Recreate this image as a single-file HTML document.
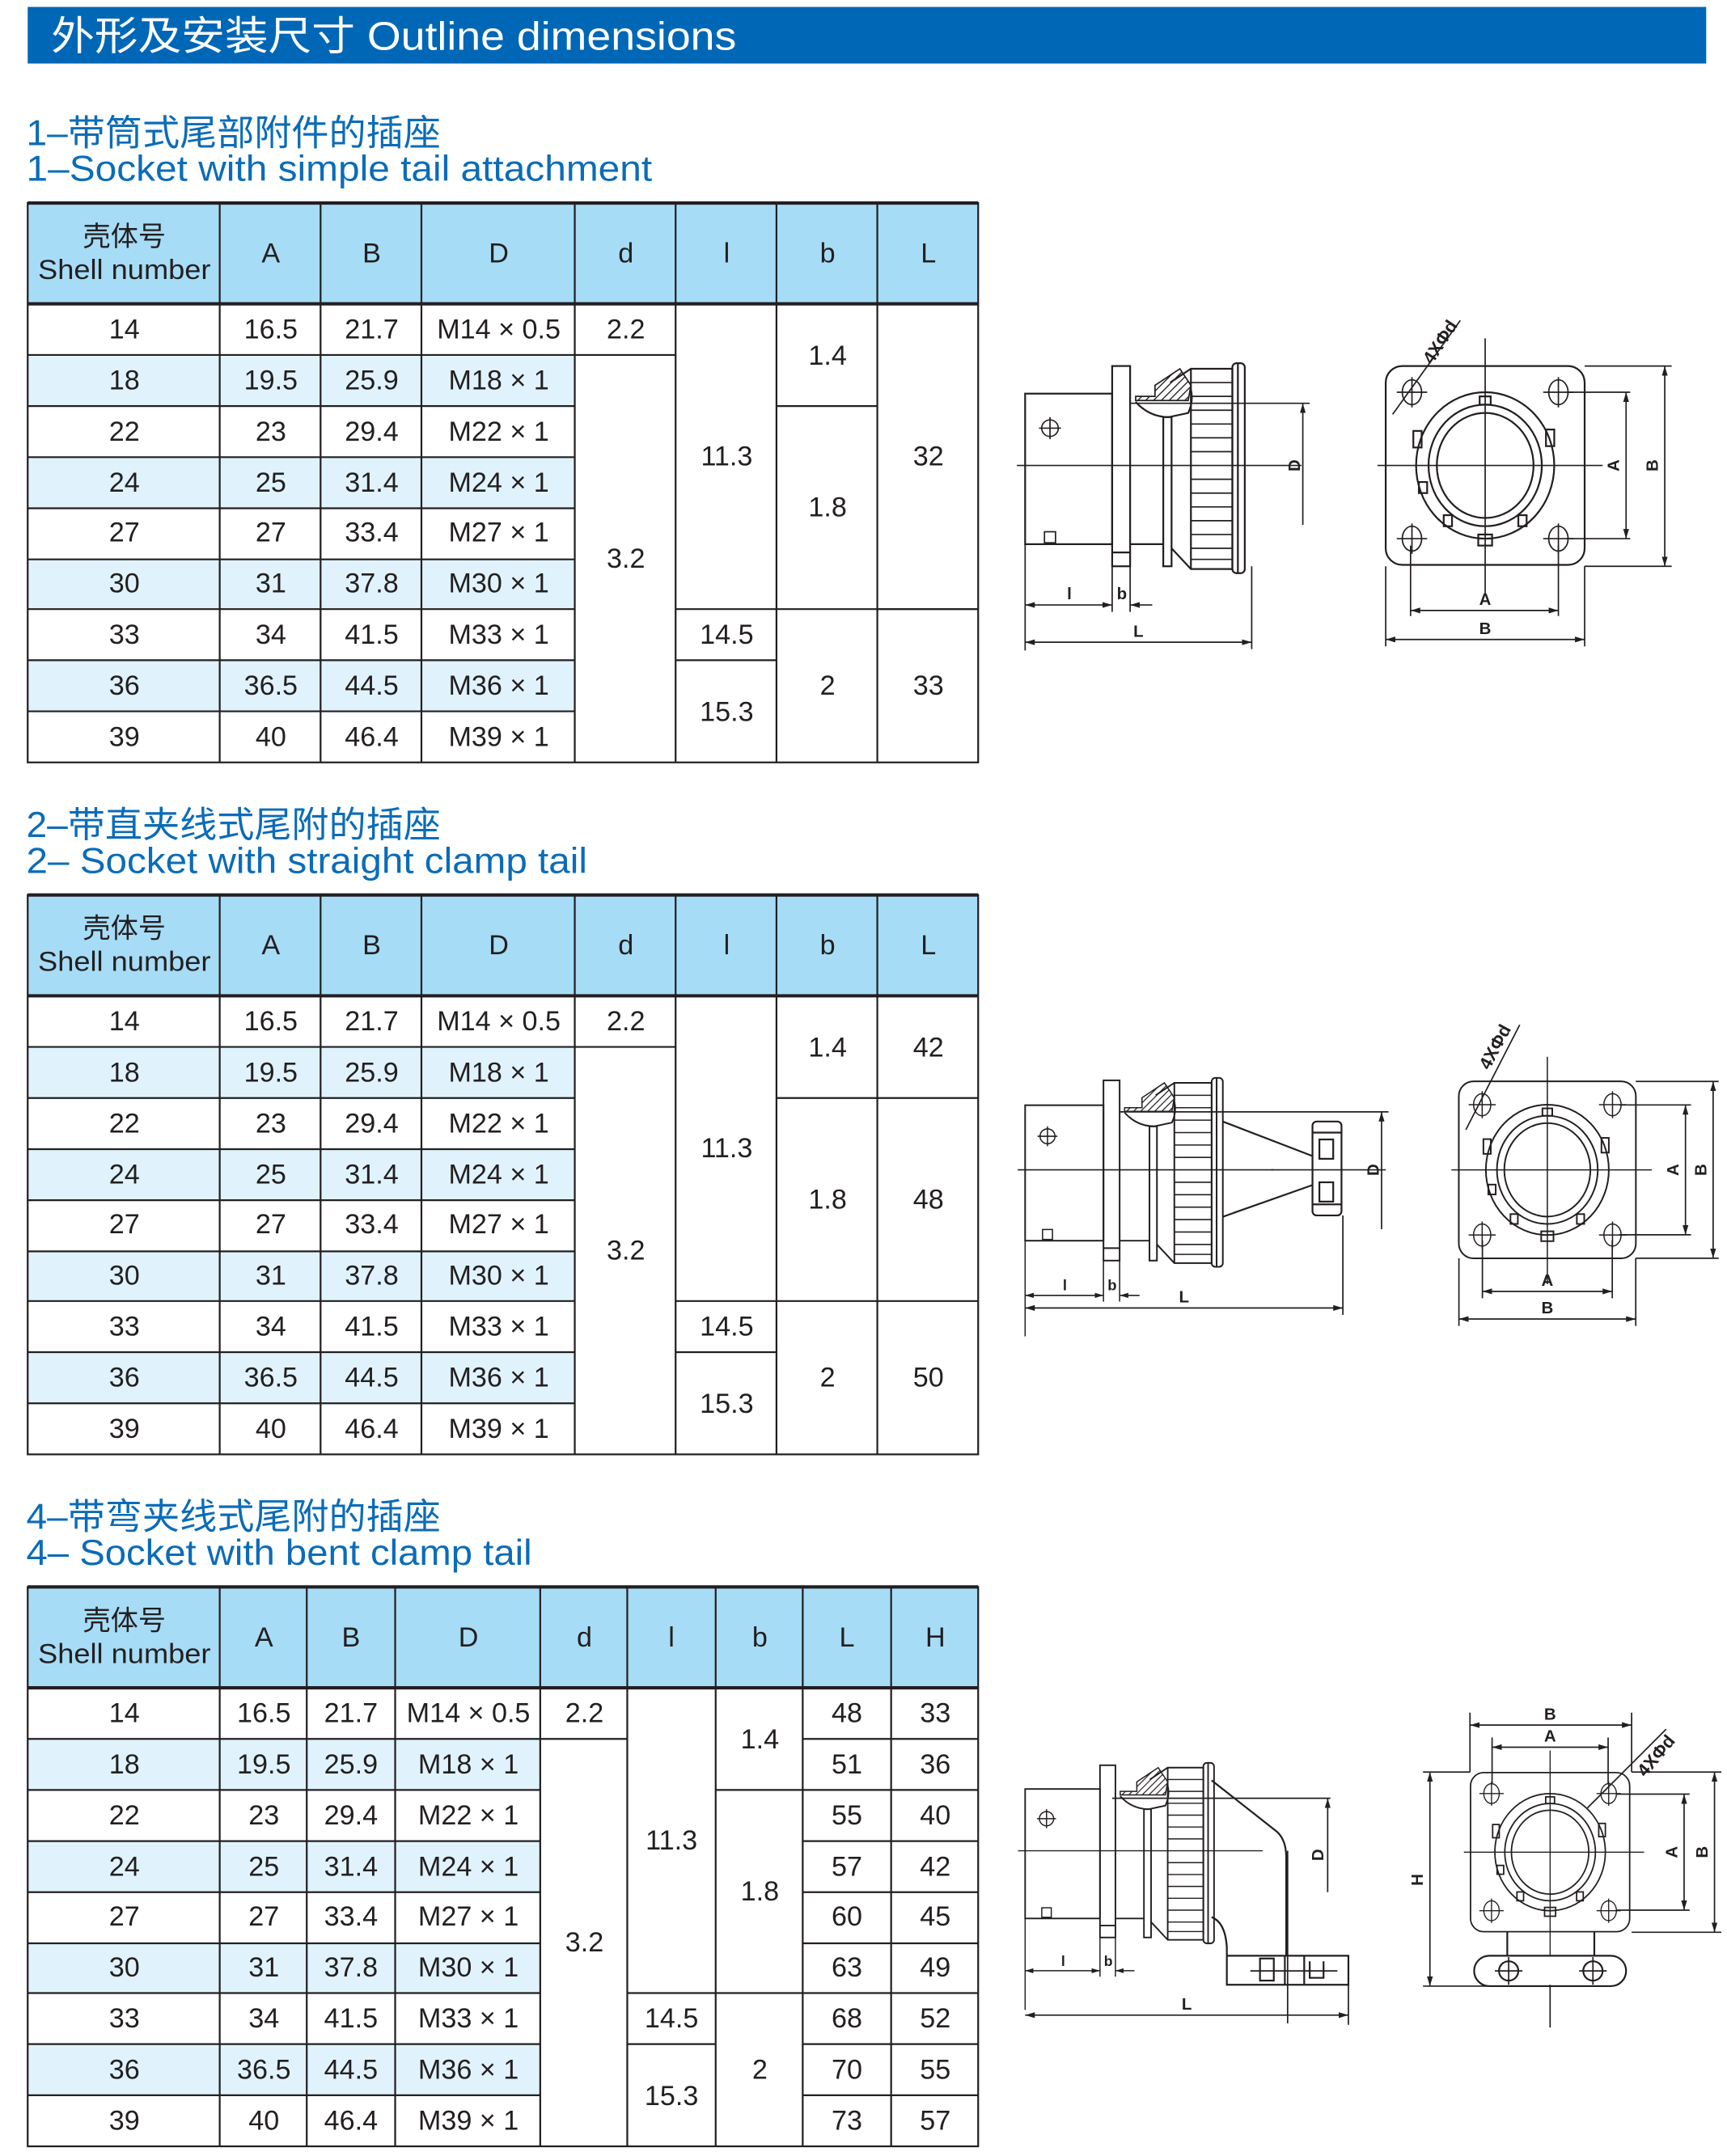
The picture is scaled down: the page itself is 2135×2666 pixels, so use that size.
<!DOCTYPE html>
<html><head><meta charset="utf-8"><style>
html,body{margin:0;padding:0;background:#fff;}
svg{display:block;}
.c{font-family:"Liberation Sans","Noto Sans CJK SC",sans-serif;font-size:20px;fill:#231f20;text-anchor:middle;}
.t{font-family:"Liberation Sans","Noto Sans CJK SC",sans-serif;font-size:26px;fill:#0b6cb8;}
.lb{font-family:"Liberation Sans",sans-serif;font-size:12px;font-weight:bold;fill:#231f20;text-anchor:middle;}
.ln{stroke:#231f20;stroke-width:1.3;fill:none;}
.dl{stroke:#231f20;stroke-width:1;fill:none;}
</style></head><body>
<svg width="2135" height="2666" viewBox="0 0 1250 1561" xmlns="http://www.w3.org/2000/svg">
<defs>
<marker id="a" viewBox="0 0 10 10" refX="10" refY="5" markerWidth="7" markerHeight="7" orient="auto-start-reverse"><path d="M0,2 L10,5 L0,8 z" fill="#231f20"/></marker>
<pattern id="h" width="4" height="4" patternUnits="userSpaceOnUse" patternTransform="rotate(45)"><line x1="0" y1="0" x2="0" y2="4" stroke="#231f20" stroke-width="1.6"/></pattern>

<g id="sv">
 <rect class="ln" x="0" y="-52" width="63" height="109"/>
 <rect class="ln" x="63" y="-72" width="13" height="145"/>
 <line class="ln" x1="63" y1="63" x2="76" y2="63"/>
 <line class="ln" x1="76" y1="57" x2="100" y2="57"/>
 <rect class="ln" x="100" y="-35" width="6" height="108"/>
 <path class="ln" d="M106,60 L120,75 L150,75 L150,-70 L120,-70 L105,-60"/>
 <path class="ln" d="M120,-70 L120,75"/>
 <g class="dl">
  <line x1="120" y1="-60" x2="150" y2="-60"/><line x1="120" y1="-50" x2="150" y2="-50"/><line x1="120" y1="-40" x2="150" y2="-40"/><line x1="120" y1="-30" x2="150" y2="-30"/><line x1="120" y1="-20" x2="150" y2="-20"/><line x1="120" y1="-10" x2="150" y2="-10"/><line x1="120" y1="10" x2="150" y2="10"/><line x1="120" y1="20" x2="150" y2="20"/><line x1="120" y1="30" x2="150" y2="30"/><line x1="120" y1="40" x2="150" y2="40"/><line x1="120" y1="50" x2="150" y2="50"/><line x1="120" y1="60" x2="150" y2="60"/><line x1="120" y1="68" x2="150" y2="68"/>
 </g>
 <rect class="ln" x="150" y="-74" width="9" height="152" rx="3"/>
 <line class="ln" x1="154" y1="-74" x2="154" y2="78"/>
 <path d="M80,-47 L118,-47 L120,-58 L112,-70 L100,-62 L94,-58 L94,-50 L80,-50 z" fill="url(#h)" stroke="#231f20" stroke-width="1"/>
 <path class="ln" d="M80,-46 Q90,-35 104,-35 L118,-38 Q122,-46 120,-55"/>
 <circle class="dl" cx="18" cy="-27" r="6"/>
 <line class="dl" x1="10" y1="-27" x2="26" y2="-27"/><line class="dl" x1="18" y1="-35" x2="18" y2="-19"/>
 <rect class="dl" x="14" y="48" width="8" height="8"/>
 <line class="dl" x1="-6" y1="0" x2="200" y2="0"/>
 <line class="dl" x1="0" y1="57" x2="0" y2="134"/>
 <line class="dl" x1="63" y1="73" x2="63" y2="106"/>
 <line class="dl" x1="76" y1="73" x2="76" y2="106"/>
 <line class="dl" x1="0" y1="101" x2="63" y2="101" marker-start="url(#a)" marker-end="url(#a)"/>
 <line class="dl" x1="92" y1="101" x2="76" y2="101" marker-end="url(#a)"/>
 <text class="lb" x="32" y="97">l</text>
 <text class="lb" x="70" y="97">b</text>
</g>

<g id="fv">
 <rect class="ln" x="-72" y="-72" width="144" height="144" rx="12"/>
 <g class="dl">
  <ellipse cx="-53" cy="-53" rx="7" ry="9"/><ellipse cx="53" cy="-53" rx="7" ry="9"/><ellipse cx="-53" cy="53" rx="7" ry="9"/><ellipse cx="53" cy="53" rx="7" ry="9"/>
  <line x1="-64" y1="-53" x2="-42" y2="-53"/><line x1="-53" y1="-64" x2="-53" y2="-42"/>
  <line x1="42" y1="-53" x2="64" y2="-53"/><line x1="53" y1="-64" x2="53" y2="-42"/>
  <line x1="-64" y1="53" x2="-42" y2="53"/><line x1="-53" y1="42" x2="-53" y2="64"/>
  <line x1="42" y1="53" x2="64" y2="53"/><line x1="53" y1="42" x2="53" y2="64"/>
 </g>
 <ellipse class="ln" cx="0" cy="0" rx="50" ry="53"/>
 <ellipse class="ln" cx="0" cy="0" rx="41" ry="44"/>
 <ellipse class="ln" cx="0" cy="0" rx="35" ry="38"/>
 <rect class="ln" x="-4" y="-50" width="8" height="6" fill="#fff"/>
 <rect class="ln" x="-5" y="50" width="10" height="8" fill="#fff"/>
 <rect class="ln" x="-52" y="-25" width="6" height="12" fill="#fff"/>
 <rect class="ln" x="44" y="-26" width="6" height="12" fill="#fff"/>
 <rect class="ln" x="-48" y="12" width="6" height="8" fill="#fff"/>
 <rect class="ln" x="-30" y="36" width="6" height="8" fill="#fff"/>
 <rect class="ln" x="24" y="36" width="6" height="8" fill="#fff"/>
 <line class="dl" x1="-78" y1="0" x2="85" y2="0"/>
 <line class="dl" x1="0" y1="-92" x2="0" y2="93"/>
</g>
</defs>

<!-- banner -->
<rect x="20" y="5" width="1215" height="41" fill="#0067b6"/>
<text x="37" y="36" textLength="496" lengthAdjust="spacingAndGlyphs" style="font-family:'Liberation Sans','Noto Sans CJK SC',sans-serif;font-size:29px;fill:#fff;">外形及安装尺寸 Outline dimensions</text>

<!-- section titles -->
<text class="t" x="19" y="105" textLength="300" lengthAdjust="spacingAndGlyphs">1–带筒式尾部附件的插座</text>
<text class="t" x="19" y="131" textLength="453" lengthAdjust="spacingAndGlyphs">1–Socket with simple tail attachment</text>
<text class="t" x="19" y="606" textLength="300" lengthAdjust="spacingAndGlyphs">2–带直夹线式尾附的插座</text>
<text class="t" x="19" y="632" textLength="406" lengthAdjust="spacingAndGlyphs">2– Socket with straight clamp tail</text>
<text class="t" x="19" y="1107" textLength="300" lengthAdjust="spacingAndGlyphs">4–带弯夹线式尾附的插座</text>
<text class="t" x="19" y="1133" textLength="366" lengthAdjust="spacingAndGlyphs">4– Socket with bent clamp tail</text>

<!-- TABLE 1 structure -->
<g id="t1">
 <rect x="20" y="147" width="688" height="73" fill="#a6dcf6"/>
 <g fill="#e0f3fc"><rect x="20" y="257" width="396" height="37"/><rect x="20" y="331" width="396" height="37"/><rect x="20" y="405" width="396" height="36"/><rect x="20" y="478" width="396" height="37"/></g>
 <g stroke="#231f20" stroke-width="1.3" fill="none">
  <rect x="20" y="147" width="688" height="405"/>
  <line x1="20" y1="147" x2="708" y2="147" stroke-width="2.4"/>
  <line x1="20" y1="220" x2="708" y2="220" stroke-width="2.4"/>
  <line x1="159" y1="147" x2="159" y2="552"/><line x1="232" y1="147" x2="232" y2="552"/><line x1="305" y1="147" x2="305" y2="552"/><line x1="416" y1="147" x2="416" y2="552"/><line x1="489" y1="147" x2="489" y2="552"/><line x1="562" y1="147" x2="562" y2="552"/><line x1="635" y1="147" x2="635" y2="552"/>
  <line x1="20" y1="257" x2="489" y2="257"/>
  <line x1="20" y1="294" x2="416" y2="294"/><line x1="20" y1="331" x2="416" y2="331"/><line x1="20" y1="368" x2="416" y2="368"/><line x1="20" y1="405" x2="416" y2="405"/><line x1="20" y1="441" x2="416" y2="441"/><line x1="20" y1="478" x2="416" y2="478"/><line x1="20" y1="515" x2="416" y2="515"/>
  <line x1="489" y1="441" x2="708" y2="441"/><line x1="489" y1="478" x2="562" y2="478"/>
  <line x1="562" y1="294" x2="635" y2="294"/>
 </g>
 <text class="c" x="90" y="178">壳体号</text><text class="c" x="90" y="202" textLength="125" lengthAdjust="spacingAndGlyphs">Shell number</text>
 <text class="c" x="196" y="190">A</text><text class="c" x="269" y="190">B</text><text class="c" x="361" y="190">D</text><text class="c" x="453" y="190">d</text><text class="c" x="526" y="190">l</text><text class="c" x="599" y="190">b</text><text class="c" x="672" y="190">L</text>
 <text class="c" x="90" y="245">14</text><text class="c" x="196" y="245">16.5</text><text class="c" x="269" y="245">21.7</text><text class="c" x="361" y="245">M14 × 0.5</text><text class="c" x="453" y="245">2.2</text>
 <text class="c" x="90" y="282">18</text><text class="c" x="196" y="282">19.5</text><text class="c" x="269" y="282">25.9</text><text class="c" x="361" y="282">M18 × 1</text>
 <text class="c" x="90" y="319">22</text><text class="c" x="196" y="319">23</text><text class="c" x="269" y="319">29.4</text><text class="c" x="361" y="319">M22 × 1</text>
 <text class="c" x="90" y="356">24</text><text class="c" x="196" y="356">25</text><text class="c" x="269" y="356">31.4</text><text class="c" x="361" y="356">M24 × 1</text>
 <text class="c" x="90" y="392">27</text><text class="c" x="196" y="392">27</text><text class="c" x="269" y="392">33.4</text><text class="c" x="361" y="392">M27 × 1</text>
 <text class="c" x="90" y="429">30</text><text class="c" x="196" y="429">31</text><text class="c" x="269" y="429">37.8</text><text class="c" x="361" y="429">M30 × 1</text>
 <text class="c" x="90" y="466">33</text><text class="c" x="196" y="466">34</text><text class="c" x="269" y="466">41.5</text><text class="c" x="361" y="466">M33 × 1</text>
 <text class="c" x="90" y="503">36</text><text class="c" x="196" y="503">36.5</text><text class="c" x="269" y="503">44.5</text><text class="c" x="361" y="503">M36 × 1</text>
 <text class="c" x="90" y="540">39</text><text class="c" x="196" y="540">40</text><text class="c" x="269" y="540">46.4</text><text class="c" x="361" y="540">M39 × 1</text>
 <text class="c" x="453" y="411">3.2</text>
 <text class="c" x="526" y="337">11.3</text><text class="c" x="526" y="466">14.5</text><text class="c" x="526" y="522">15.3</text>
 <text class="c" x="599" y="264">1.4</text><text class="c" x="599" y="374">1.8</text><text class="c" x="599" y="503">2</text>
</g>
<text class="c" x="672" y="337">32</text><text class="c" x="672" y="503">33</text>
<line x1="635" y1="441" x2="708" y2="441" stroke="#231f20" stroke-width="1.3"/>

<!-- TABLE 2 -->
<use href="#t1" transform="translate(0,501)"/>
<g stroke="#231f20" stroke-width="1.3"><line x1="635" y1="795" x2="708" y2="795"/></g>
<text class="c" x="672" y="765">42</text><text class="c" x="672" y="875">48</text><text class="c" x="672" y="1004">50</text>

<!-- TABLE 3 -->
<g transform="translate(0,1002)">
 <rect x="20" y="147" width="688" height="73" fill="#a6dcf6"/>
 <g fill="#e0f3fc"><rect x="20" y="257" width="371" height="37"/><rect x="20" y="331" width="371" height="37"/><rect x="20" y="405" width="371" height="36"/><rect x="20" y="478" width="371" height="37"/></g>
 <g stroke="#231f20" stroke-width="1.3" fill="none">
  <rect x="20" y="147" width="688" height="405"/>
  <line x1="20" y1="147" x2="708" y2="147" stroke-width="2.4"/>
  <line x1="20" y1="220" x2="708" y2="220" stroke-width="2.4"/>
  <line x1="159" y1="147" x2="159" y2="552"/><line x1="222" y1="147" x2="222" y2="552"/><line x1="286" y1="147" x2="286" y2="552"/><line x1="391" y1="147" x2="391" y2="552"/><line x1="454" y1="147" x2="454" y2="552"/><line x1="518" y1="147" x2="518" y2="552"/><line x1="581" y1="147" x2="581" y2="552"/><line x1="645" y1="147" x2="645" y2="552"/>
  <line x1="20" y1="257" x2="454" y2="257"/>
  <line x1="20" y1="294" x2="391" y2="294"/><line x1="20" y1="331" x2="391" y2="331"/><line x1="20" y1="368" x2="391" y2="368"/><line x1="20" y1="405" x2="391" y2="405"/><line x1="20" y1="441" x2="391" y2="441"/><line x1="20" y1="478" x2="391" y2="478"/><line x1="20" y1="515" x2="391" y2="515"/>
  <line x1="454" y1="441" x2="581" y2="441"/><line x1="454" y1="478" x2="518" y2="478"/>
  <line x1="518" y1="294" x2="581" y2="294"/>
  <line x1="581" y1="257" x2="708" y2="257"/><line x1="581" y1="294" x2="708" y2="294"/><line x1="581" y1="331" x2="708" y2="331"/><line x1="581" y1="368" x2="708" y2="368"/><line x1="581" y1="405" x2="708" y2="405"/><line x1="581" y1="441" x2="708" y2="441"/><line x1="581" y1="478" x2="708" y2="478"/><line x1="581" y1="515" x2="708" y2="515"/>
 </g>
 <text class="c" x="90" y="178">壳体号</text><text class="c" x="90" y="202" textLength="125" lengthAdjust="spacingAndGlyphs">Shell number</text>
 <text class="c" x="191" y="190">A</text><text class="c" x="254" y="190">B</text><text class="c" x="339" y="190">D</text><text class="c" x="423" y="190">d</text><text class="c" x="486" y="190">l</text><text class="c" x="550" y="190">b</text><text class="c" x="613" y="190">L</text><text class="c" x="677" y="190">H</text>
 <text class="c" x="90" y="245">14</text><text class="c" x="191" y="245">16.5</text><text class="c" x="254" y="245">21.7</text><text class="c" x="339" y="245">M14 × 0.5</text><text class="c" x="423" y="245">2.2</text><text class="c" x="613" y="245">48</text><text class="c" x="677" y="245">33</text>
 <text class="c" x="90" y="282">18</text><text class="c" x="191" y="282">19.5</text><text class="c" x="254" y="282">25.9</text><text class="c" x="339" y="282">M18 × 1</text><text class="c" x="613" y="282">51</text><text class="c" x="677" y="282">36</text>
 <text class="c" x="90" y="319">22</text><text class="c" x="191" y="319">23</text><text class="c" x="254" y="319">29.4</text><text class="c" x="339" y="319">M22 × 1</text><text class="c" x="613" y="319">55</text><text class="c" x="677" y="319">40</text>
 <text class="c" x="90" y="356">24</text><text class="c" x="191" y="356">25</text><text class="c" x="254" y="356">31.4</text><text class="c" x="339" y="356">M24 × 1</text><text class="c" x="613" y="356">57</text><text class="c" x="677" y="356">42</text>
 <text class="c" x="90" y="392">27</text><text class="c" x="191" y="392">27</text><text class="c" x="254" y="392">33.4</text><text class="c" x="339" y="392">M27 × 1</text><text class="c" x="613" y="392">60</text><text class="c" x="677" y="392">45</text>
 <text class="c" x="90" y="429">30</text><text class="c" x="191" y="429">31</text><text class="c" x="254" y="429">37.8</text><text class="c" x="339" y="429">M30 × 1</text><text class="c" x="613" y="429">63</text><text class="c" x="677" y="429">49</text>
 <text class="c" x="90" y="466">33</text><text class="c" x="191" y="466">34</text><text class="c" x="254" y="466">41.5</text><text class="c" x="339" y="466">M33 × 1</text><text class="c" x="613" y="466">68</text><text class="c" x="677" y="466">52</text>
 <text class="c" x="90" y="503">36</text><text class="c" x="191" y="503">36.5</text><text class="c" x="254" y="503">44.5</text><text class="c" x="339" y="503">M36 × 1</text><text class="c" x="613" y="503">70</text><text class="c" x="677" y="503">55</text>
 <text class="c" x="90" y="540">39</text><text class="c" x="191" y="540">40</text><text class="c" x="254" y="540">46.4</text><text class="c" x="339" y="540">M39 × 1</text><text class="c" x="613" y="540">73</text><text class="c" x="677" y="540">57</text>
 <text class="c" x="423" y="411">3.2</text>
 <text class="c" x="486" y="337">11.3</text><text class="c" x="486" y="466">14.5</text><text class="c" x="486" y="522">15.3</text>
 <text class="c" x="550" y="264">1.4</text><text class="c" x="550" y="374">1.8</text><text class="c" x="550" y="503">2</text>
</g>

<!-- DRAWING 1 -->
<use href="#sv" transform="translate(742,337)"/>
<line class="dl" x1="818" y1="292" x2="948" y2="292"/>
<line class="dl" x1="943" y1="380" x2="943" y2="292" marker-end="url(#a)"/>
<text class="lb" transform="translate(941,337) rotate(-90)">D</text>
<line class="dl" x1="906" y1="410" x2="906" y2="470"/>
<line class="dl" x1="742" y1="465" x2="906" y2="465" marker-start="url(#a)" marker-end="url(#a)"/>
<text class="lb" x="824" y="461">L</text>

<use href="#fv" transform="translate(1075,337)"/>
<g class="dl">
 <line x1="1008" y1="300" x2="1057" y2="232"/>
 <line x1="1134" y1="284" x2="1180" y2="284"/><line x1="1134" y1="390" x2="1180" y2="390"/>
 <line x1="1177" y1="284" x2="1177" y2="390" marker-start="url(#a)" marker-end="url(#a)"/>
 <line x1="1147" y1="265" x2="1210" y2="265"/><line x1="1147" y1="410" x2="1210" y2="410"/>
 <line x1="1205" y1="265" x2="1205" y2="410" marker-start="url(#a)" marker-end="url(#a)"/>
 <line x1="1021" y1="395" x2="1021" y2="446"/><line x1="1128" y1="395" x2="1128" y2="446"/>
 <line x1="1021" y1="442" x2="1128" y2="442" marker-start="url(#a)" marker-end="url(#a)"/>
 <line x1="1003" y1="410" x2="1003" y2="468"/><line x1="1147" y1="410" x2="1147" y2="468"/>
 <line x1="1003" y1="463" x2="1147" y2="463" marker-start="url(#a)" marker-end="url(#a)"/>
</g>
<text class="lb" style="font-size:13px" transform="translate(1046,250) rotate(-57)">4XΦd</text>
<text class="lb" transform="translate(1172,337) rotate(-90)">A</text>
<text class="lb" transform="translate(1200,337) rotate(-90)">B</text>
<text class="lb" x="1075" y="438">A</text>
<text class="lb" x="1075" y="459">B</text>

<!-- DRAWING 2 -->
<use href="#sv" transform="translate(742,847) scale(0.9)"/>
<line class="dl" x1="810" y1="805" x2="1005" y2="805"/>
<line class="dl" x1="1000" y1="890" x2="1000" y2="805" marker-end="url(#a)"/>
<line class="dl" x1="920" y1="847" x2="1003" y2="847"/>
<text class="lb" transform="translate(998,847) rotate(-90)">D</text>
<g class="ln">
 <line x1="885" y1="812" x2="950" y2="837"/><line x1="885" y1="881" x2="950" y2="858"/>
 <rect x="950" y="812" width="21" height="68" rx="3"/>
 <line x1="950" y1="820" x2="971" y2="820"/><line x1="950" y1="872" x2="971" y2="872"/>
 <rect x="955" y="825" width="10" height="14"/><rect x="955" y="856" width="10" height="14"/>
</g>
<line class="dl" x1="972" y1="880" x2="972" y2="952"/>
<line class="dl" x1="742" y1="947" x2="972" y2="947" marker-start="url(#a)" marker-end="url(#a)"/>
<text class="lb" x="857" y="943">L</text>

<use href="#fv" transform="translate(1120,847) scale(0.89)"/>
<g class="dl">
 <line x1="1061" y1="818" x2="1100" y2="742"/>
 <line x1="1172" y1="800" x2="1224" y2="800"/><line x1="1172" y1="894" x2="1224" y2="894"/>
 <line x1="1220" y1="800" x2="1220" y2="894" marker-start="url(#a)" marker-end="url(#a)"/>
 <line x1="1184" y1="783" x2="1244" y2="783"/><line x1="1184" y1="911" x2="1244" y2="911"/>
 <line x1="1240" y1="783" x2="1240" y2="911" marker-start="url(#a)" marker-end="url(#a)"/>
 <line x1="1073" y1="898" x2="1073" y2="940"/><line x1="1167" y1="898" x2="1167" y2="940"/>
 <line x1="1073" y1="935" x2="1167" y2="935" marker-start="url(#a)" marker-end="url(#a)"/>
 <line x1="1056" y1="911" x2="1056" y2="960"/><line x1="1184" y1="911" x2="1184" y2="960"/>
 <line x1="1056" y1="955" x2="1184" y2="955" marker-start="url(#a)" marker-end="url(#a)"/>
</g>
<text class="lb" style="font-size:13px" transform="translate(1086,760) rotate(-62)">4XΦd</text>
<text class="lb" transform="translate(1215,847) rotate(-90)">A</text>
<text class="lb" transform="translate(1235,847) rotate(-90)">B</text>
<text class="lb" x="1120" y="931">A</text>
<text class="lb" x="1120" y="951">B</text>

<!-- DRAWING 3 -->
<use href="#sv" transform="translate(742,1340) scale(0.86)"/>
<g class="ln">
 <path d="M877,1289 L924,1326 Q931,1332 931,1345 L931,1416"/>
 <path d="M877,1388 Q887,1392 888,1410 L888,1437 L976,1437 L976,1416 L888,1416"/>
 <rect x="912" y="1418" width="10" height="16"/>
 <line x1="930" y1="1416" x2="930" y2="1437"/><line x1="944" y1="1416" x2="944" y2="1437"/>
 <path d="M948,1420 L948,1432 L958,1432 L958,1420"/>
</g>
<g class="dl">
 <line x1="805" y1="1302" x2="963" y2="1302"/>
 <line x1="961" y1="1370" x2="961" y2="1302" marker-end="url(#a)"/>
 <line x1="932" y1="1340" x2="932" y2="1465"/>
 <line x1="905" y1="1427" x2="968" y2="1427"/>
 <line x1="976" y1="1437" x2="976" y2="1466"/>
 <line x1="742" y1="1459" x2="976" y2="1459" marker-start="url(#a)" marker-end="url(#a)"/>
</g>
<text class="lb" transform="translate(958,1343) rotate(-90)">D</text>
<text class="lb" x="859" y="1455">L</text>

<use href="#fv" transform="translate(1122,1341) scale(0.8)"/>
<g class="ln">
 <path d="M1091,1399 L1091,1418 M1154,1399 L1154,1418"/>
 <rect x="1067" y="1416" width="110" height="22" rx="11" fill="#fff"/>
 <circle cx="1092" cy="1427" r="7"/><circle cx="1153" cy="1427" r="7"/>
</g>
<g class="dl">
 <line x1="1082" y1="1427" x2="1102" y2="1427"/><line x1="1092" y1="1417" x2="1092" y2="1437"/>
 <line x1="1143" y1="1427" x2="1163" y2="1427"/><line x1="1153" y1="1417" x2="1153" y2="1437"/>
 <line x1="1122" y1="1437" x2="1122" y2="1468"/>
 <line x1="1149" y1="1309" x2="1206" y2="1252"/>
 <line x1="1064" y1="1283" x2="1064" y2="1240"/><line x1="1181" y1="1283" x2="1181" y2="1240"/>
 <line x1="1064" y1="1249" x2="1181" y2="1249" marker-start="url(#a)" marker-end="url(#a)"/>
 <line x1="1080" y1="1292" x2="1080" y2="1258"/><line x1="1164" y1="1292" x2="1164" y2="1258"/>
 <line x1="1080" y1="1265" x2="1164" y2="1265" marker-start="url(#a)" marker-end="url(#a)"/>
 <line x1="1170" y1="1299" x2="1223" y2="1299"/><line x1="1170" y1="1383" x2="1223" y2="1383"/>
 <line x1="1219" y1="1299" x2="1219" y2="1383" marker-start="url(#a)" marker-end="url(#a)"/>
 <line x1="1181" y1="1283" x2="1246" y2="1283"/><line x1="1181" y1="1399" x2="1246" y2="1399"/>
 <line x1="1241" y1="1283" x2="1241" y2="1399" marker-start="url(#a)" marker-end="url(#a)"/>
 <line x1="1030" y1="1283" x2="1064" y2="1283"/><line x1="1030" y1="1438" x2="1090" y2="1438"/>
 <line x1="1035" y1="1283" x2="1035" y2="1438" marker-start="url(#a)" marker-end="url(#a)"/>
</g>
<text class="lb" style="font-size:13px" transform="translate(1202,1274) rotate(-50)">4XΦd</text>
<text class="lb" x="1122" y="1245">B</text>
<text class="lb" x="1122" y="1261">A</text>
<text class="lb" transform="translate(1214,1341) rotate(-90)">A</text>
<text class="lb" transform="translate(1236,1341) rotate(-90)">B</text>
<text class="lb" transform="translate(1030,1361) rotate(-90)">H</text>
</svg>
</body></html>
